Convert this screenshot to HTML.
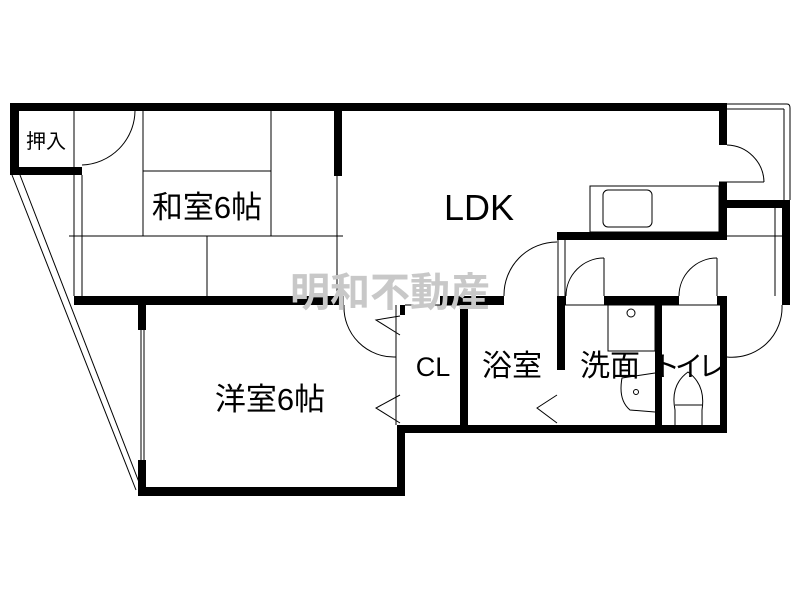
<!DOCTYPE html>
<html><head><meta charset="utf-8"><style>
html,body{margin:0;padding:0;background:#fff;width:800px;height:600px;overflow:hidden}
text{font-family:"Liberation Sans","Noto Sans CJK JP",sans-serif;fill:#000}
</style></head><body>
<svg width="800" height="600" viewBox="0 0 800 600" xmlns="http://www.w3.org/2000/svg">
<g fill="none" stroke="#000" stroke-width="1">
<line x1="12" y1="175" x2="136" y2="490"/>
<line x1="20" y1="175" x2="142" y2="490"/>
<line x1="74" y1="111" x2="74" y2="296"/>
<line x1="82" y1="175" x2="82" y2="296"/>
<line x1="143" y1="111" x2="143" y2="236"/>
<line x1="271" y1="111" x2="271" y2="236"/>
<line x1="143" y1="171" x2="271" y2="171"/>
<line x1="69" y1="236" x2="343" y2="236"/>
<line x1="207" y1="236" x2="207" y2="296"/>
<line x1="337" y1="176" x2="337" y2="296"/>
<path d="M82 165 A55 55 0 0 0 135 111"/>
<path d="M727 104 H787 Q790 104 790 108 V200"/>
<line x1="727" y1="109" x2="784" y2="109"/>
<line x1="784" y1="109" x2="784" y2="200"/>
<line x1="719" y1="182" x2="764" y2="182"/>
<path d="M727 145 A38 38 0 0 1 764 182"/>
<rect x="590" y="186" width="129" height="46"/>
<rect x="603" y="190" width="49" height="37" rx="5"/>
<line x1="727" y1="236" x2="782" y2="236"/>
<line x1="775" y1="208" x2="775" y2="296"/>
<line x1="558" y1="240" x2="558" y2="296"/>
<line x1="565" y1="240" x2="565" y2="296"/>
<path d="M557 242 A53 53 0 0 0 504 296"/>
<line x1="604" y1="258" x2="604" y2="296"/>
<path d="M604 258 A38 38 0 0 0 566 296"/>
<line x1="717" y1="258" x2="717" y2="296"/>
<path d="M717 258 A38 38 0 0 0 679 296"/>
<path d="M782 305 A50 50 0 0 1 727 357"/>
<path d="M344 305 A50 50 0 0 0 396 357"/>
<line x1="396" y1="305" x2="396" y2="425"/>
<polyline points="400,316 376,320 400,335"/>
<polyline points="400,395 376,408 400,423"/>
<polyline points="557,395 537,408 557,423"/>
<line x1="141" y1="330" x2="141" y2="460"/>
<line x1="144" y1="330" x2="144" y2="460"/>
<rect x="608" y="305" width="47" height="46"/>
<circle cx="631" cy="313" r="4"/>
<path d="M655 373 L622 378 Q618 400 630 410 L655 412"/>
<circle cx="636" cy="392" r="2.5"/>
<path d="M675 425 V410 Q670 385 688 372 Q706 385 702 410 V425"/>
<line x1="675" y1="405" x2="702" y2="405"/>
<line x1="662" y1="305" x2="720" y2="305"/>
<line x1="565" y1="305" x2="655" y2="305"/>
<line x1="405" y1="305" x2="460" y2="305"/>
</g>
<g fill="#000">
<rect x="10" y="103" width="717" height="8"/>
<rect x="10" y="103" width="9" height="72"/>
<rect x="10" y="167" width="72" height="8"/>
<rect x="334" y="103" width="8" height="73"/>
<rect x="719" y="103" width="8" height="42"/>
<rect x="719" y="182" width="8" height="58"/>
<rect x="719" y="200" width="71" height="8"/>
<rect x="782" y="200" width="8" height="105"/>
<rect x="557" y="232" width="170" height="8"/>
<rect x="74" y="296" width="270" height="9"/>
<rect x="440" y="296" width="64" height="9"/>
<rect x="557" y="296" width="9" height="9"/>
<rect x="604" y="296" width="75" height="9"/>
<rect x="717" y="296" width="10" height="9"/>
<rect x="138" y="305" width="8" height="25"/>
<rect x="138" y="460" width="8" height="36"/>
<rect x="138" y="487" width="267" height="9"/>
<rect x="397" y="425" width="8" height="71"/>
<rect x="400" y="305" width="5" height="10"/>
<rect x="460" y="296" width="8" height="137"/>
<rect x="557" y="305" width="8" height="65"/>
<rect x="655" y="305" width="7" height="128"/>
<rect x="720" y="296" width="7" height="137"/>
<rect x="397" y="425" width="330" height="8"/>
</g>
<text x="290" y="306" font-size="40" font-weight="bold" style="fill:#c8c8c8">明和不動産</text>
<text x="46" y="148" font-size="20" text-anchor="middle">押入</text>
<text x="207" y="218" font-size="31" text-anchor="middle">和室6帖</text>
<text x="479" y="220" font-size="36" text-anchor="middle">LDK</text>
<text x="270" y="410" font-size="31" text-anchor="middle">洋室6帖</text>
<text x="433" y="376" font-size="27" text-anchor="middle">CL</text>
<text x="512" y="376" font-size="30" text-anchor="middle">浴室</text>
<text x="610" y="376" font-size="30" text-anchor="middle">洗面</text>
<text x="689" y="376" font-size="28" text-anchor="middle" textLength="74">トイレ</text>
</svg>
</body></html>
